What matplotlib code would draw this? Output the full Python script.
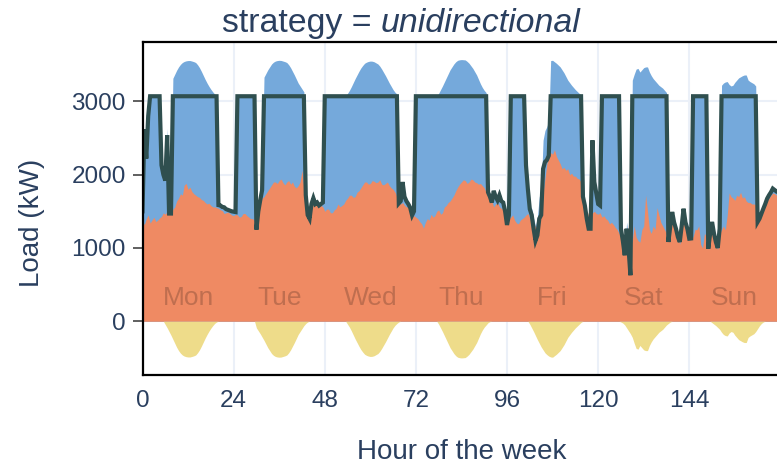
import matplotlib
matplotlib.use("Agg")
import matplotlib.pyplot as plt
import numpy as np

plt.rcParams['font.family'] = ['Liberation Sans', 'DejaVu Sans']

# ---------------- data (half-hourly, hour 0 .. 168) ----------------
hours = [i * 0.5 for i in range(337)]

base_load = [
    # Mon 0-23.5
    1360, 1320, 1400, 1450, 1340, 1380, 1420, 1360, 1380, 1410, 1430, 1480,
    1460, 1500, 1480, 1450, 1530, 1560, 1640, 1680, 1740, 1720, 1860, 1880,
    1800, 1830, 1770, 1740, 1720, 1700, 1690, 1660, 1650, 1620, 1600, 1610,
    1580, 1560, 1560, 1550, 1540, 1520, 1510, 1470, 1480, 1490, 1470, 1450,
    # Tue 24-47.5
    1440, 1460, 1450, 1420, 1430, 1470, 1470, 1440, 1420, 1400, 1400, 1370,
    1340, 1420, 1600, 1680, 1700, 1740, 1780, 1820, 1860, 1900, 1900, 1880,
    1920, 1940, 1890, 1860, 1900, 1920, 1870, 1900, 1840, 1820, 1850, 1900,
    2060, 1800, 1650, 1400, 1420, 1580, 1640, 1580, 1600, 1560, 1580, 1560,
    # Wed 48-71.5
    1500, 1530, 1530, 1480, 1480, 1520, 1540, 1600, 1560, 1580, 1600, 1650,
    1680, 1720, 1720, 1690, 1700, 1760, 1780, 1820, 1860, 1900, 1900, 1870,
    1880, 1920, 1910, 1890, 1900, 1930, 1870, 1860, 1880, 1900, 1850, 1820,
    1800, 1760, 1700, 1660, 1600, 1620, 1580, 1560, 1560, 1540, 1430, 1440,
    # Thu 72-95.5
    1420, 1400, 1360, 1330, 1270, 1350, 1400, 1380, 1460, 1420, 1440, 1500,
    1520, 1460, 1480, 1560, 1580, 1620, 1640, 1680, 1720, 1780, 1830, 1870,
    1900, 1930, 1920, 1880, 1900, 1940, 1930, 1900, 1890, 1870, 1880, 1850,
    1820, 1760, 1700, 1660, 1640, 1560, 1600, 1620, 1560, 1540, 1520, 1480,
    # Fri 96-119.5
    1350, 1400, 1420, 1450, 1380, 1340, 1330, 1380, 1400, 1420, 1450, 1470,
    1400, 1420, 1350, 1280, 1300, 1450, 1550, 1750, 1950, 2150, 2250, 2300,
    2280, 2340, 2250, 2200, 2150, 2080, 2100, 2060, 2080, 2000, 2020, 1980,
    1980, 1950, 1940, 1900, 1720, 1600, 1400, 1500, 1450, 1480, 1500, 1470,
    # Sat 120-143.5
    1460, 1480, 1420, 1440, 1400, 1380, 1330, 1350, 1320, 1280, 1250, 1200,
    1150, 1080, 1000, 950, 1330, 1050, 1100, 1300, 1150, 1100, 1080, 1250,
    1300, 1720, 1500, 1250, 1200, 1300, 1250, 1550, 1450, 1350, 1300, 1250,
    1200, 1180, 1250, 1400, 1280, 1200, 1150, 1050, 1280, 1380, 1250, 1200,
    # Sun 144-167.5
    1100, 1150, 1150, 1250, 1250, 1300, 1050, 1000, 1200, 1150, 980, 1150,
    1300, 1150, 1050, 980, 1200, 1250, 1300, 1250, 1450, 1750, 1700, 1680,
    1650, 1720, 1700, 1760, 1680, 1700, 1640, 1620, 1620, 1600, 1600, 1590,
    1400, 1380, 1450, 1520, 1580, 1650, 1680, 1720, 1750, 1740, 1720, 1740,
    # 168
    1760,
]

grid_load = [
    # Mon
    1500, 2620, 2220, 2800, 3070, 3070, 3070, 3070, 3070, 3070, 2130, 2000,
    1920, 2540, 1470, 1470, 3070, 3070, 3070, 3070, 3070, 3070, 3070, 3070,
    3070, 3070, 3070, 3070, 3070, 3070, 3070, 3070, 3070, 3070, 3070, 3070,
    3070, 3070, 3070, 3070, 1585, 1580, 1560, 1555, 1530, 1520, 1510, 1500,
    # Tue
    1495, 1490, 3070, 3070, 3070, 3070, 3070, 3070, 3070, 3070, 3070, 3070,
    1250, 1500, 1650, 1790, 3070, 3070, 3070, 3070, 3070, 3070, 3070, 3070,
    3070, 3070, 3070, 3070, 3070, 3070, 3070, 3070, 3070, 3070, 3070, 3070,
    3070, 3070, 1720, 1450, 1400, 1600, 1680, 1600, 1620, 1580, 1600, 1620,
    # Wed
    3070, 3070, 3070, 3070, 3070, 3070, 3070, 3070, 3070, 3070, 3070, 3070,
    3070, 3070, 3070, 3070, 3070, 3070, 3070, 3070, 3070, 3070, 3070, 3070,
    3070, 3070, 3070, 3070, 3070, 3070, 3070, 3070, 3070, 3070, 3070, 3070,
    3070, 3070, 3070, 1610, 1640, 1900, 1700, 1640, 1600, 1550, 1446, 1500,
    # Thu
    3070, 3070, 3070, 3070, 3070, 3070, 3070, 3070, 3070, 3070, 3070, 3070,
    3070, 3070, 3070, 3070, 3070, 3070, 3070, 3070, 3070, 3070, 3070, 3070,
    3070, 3070, 3070, 3070, 3070, 3070, 3070, 3070, 3070, 3070, 3070, 3070,
    3070, 3070, 1760, 1700, 1620, 1780, 1700, 1650, 1720, 1640, 1620, 1500,
    # Fri
    1314, 1450, 3070, 3070, 3070, 3070, 3070, 3070, 3070, 3070, 2128, 1800,
    1530, 1450, 1263, 1100, 1173, 1400, 1450, 2080, 2173, 2200, 2260, 3070,
    3070, 3070, 3070, 3070, 3070, 3070, 3070, 3070, 3070, 3070, 3070, 3070,
    3070, 3070, 3070, 3070, 1700, 1580, 1400, 1263, 1263, 2469, 1900, 1750,
    # Sat
    1600, 1580, 3070, 3070, 3070, 3070, 3070, 3070, 3070, 3070, 3070, 3070,
    1263, 1100, 900, 1263, 1000, 628, 3070, 3070, 3070, 3070, 3070, 3070,
    3070, 3070, 3070, 3070, 3070, 3070, 3070, 3070, 3070, 3070, 3070, 3070,
    3070, 1082, 1300, 1491, 1350, 1263, 1150, 1082, 1300, 1536, 1350, 1263,
    # Sun
    1127, 1130, 3070, 3070, 3070, 3070, 3070, 3070, 3070, 3070, 990, 1200,
    1355, 1200, 1082, 1000, 1263, 3070, 3070, 3070, 3070, 3070, 3070, 3070,
    3070, 3070, 3070, 3070, 3070, 3070, 3070, 3070, 3070, 3070, 3070, 3070,
    1355, 1400, 1470, 1536, 1600, 1673, 1720, 1760, 1810, 1790, 1770, 1780,
    # 168
    1800,
]

pv_gen = [
    # Mon
    0, 0, 0, 0, 0, 0, 0, 0, 0, 0, 0, 0,
    45, 90, 140, 190, 245, 300, 355, 400, 435, 460, 475, 483,
    487, 487, 480, 472, 460, 430, 390, 340, 285, 230, 180, 135,
    95, 60, 30, 10, 0, 0, 0, 0, 0, 0, 0, 0,
    # Tue
    0, 0, 0, 0, 0, 0, 0, 0, 0, 0, 0, 0,
    90, 130, 170, 215, 260, 310, 360, 400, 440, 465, 480, 487,
    490, 488, 480, 472, 460, 430, 390, 340, 290, 235, 180, 140,
    100, 60, 30, 10, 0, 0, 0, 0, 0, 0, 0, 0,
    # Wed
    0, 0, 0, 0, 0, 0, 0, 0, 0, 0, 0, 0,
    40, 80, 130, 185, 240, 290, 340, 385, 420, 450, 465, 475,
    480, 478, 470, 455, 440, 410, 370, 325, 280, 230, 180, 135,
    90, 55, 30, 10, 0, 0, 0, 0, 0, 0, 0, 0,
    # Thu
    0, 0, 0, 0, 0, 0, 0, 0, 0, 0, 0, 0,
    40, 90, 140, 195, 250, 305, 360, 400, 440, 470, 490, 497,
    500, 498, 495, 475, 450, 415, 380, 335, 290, 230, 170, 120,
    80, 50, 20, 5, 0, 0, 0, 0, 0, 0, 0, 0,
    # Fri
    0, 0, 0, 0, 0, 0, 0, 0, 0, 0, 0, 0,
    40, 90, 140, 195, 250, 300, 350, 390, 430, 455, 475, 487,
    490, 470, 450, 425, 400, 360, 320, 270, 220, 185, 150, 120,
    90, 65, 40, 15, 0, 0, 0, 0, 0, 0, 0, 0,
    # Sat
    0, 0, 0, 0, 0, 0, 0, 0, 0, 0, 0, 0,
    10, 25, 50, 90, 130, 170, 220, 300, 370, 380, 330, 360,
    390, 400, 400, 330, 280, 240, 210, 180, 150, 130, 110, 80,
    50, 30, 10, 0, 0, 0, 0, 0, 0, 0, 0, 0,
    # Sun
    0, 0, 0, 0, 0, 0, 0, 0, 0, 0, 0, 0,
    20, 40, 60, 85, 110, 150, 180, 195, 200, 160, 140, 150,
    190, 220, 250, 265, 280, 290, 290, 220, 200, 185, 170, 140,
    100, 60, 30, 10, 0, 0, 0, 0, 0, 0, 0, 0,
    # 168
    0,
]

day_names = ["Mon", "Tue", "Wed", "Thu", "Fri", "Sat", "Sun"]
day_centers = [12, 36, 60, 84, 108, 132, 156]
x_ticks = [0, 24, 48, 72, 96, 120, 144]
y_ticks = [0, 1000, 2000, 3000]

# ---------------- styling ----------------
W, H = 777, 466
C_BLUE = "#75A9DB"
C_ORANGE = "#EF8A63"
C_YELLOW = "#EEDC8A"
C_LINE = "#2F4F4F"
C_TEXT = "#2a3f5f"
C_GRID = "#EBF0F8"

fig = plt.figure(figsize=(W / 100, H / 100), dpi=100)
fig.patch.set_facecolor("white")
left_px, right_px, top_px, bot_px = 142.5, 780.4, 42, 375
ax = fig.add_axes([left_px / W, 1 - bot_px / H, (right_px - left_px) / W, (bot_px - top_px) / H])
ax.set_facecolor("white")

h = np.array(hours, dtype=float)
base = np.array(base_load, dtype=float)
grid = np.array(grid_load, dtype=float)
pv = np.array(pv_gen, dtype=float)

# stacked: total consumption (grid + pv) behind, base load in front, pv mirrored below
ax.fill_between(h, 0, grid + pv, color=C_BLUE, lw=0, zorder=2)
ax.fill_between(h, 0, base, color=C_ORANGE, lw=0, zorder=3)
ax.fill_between(h, 0, -pv, color=C_YELLOW, lw=0, zorder=3)
ax.plot(h, grid, color=C_LINE, lw=3.0, zorder=6, solid_joinstyle="miter")

for name, c in zip(day_names, day_centers):
    ax.text(c, 320, name, ha="center", va="center", fontsize=19,
            color=(0, 0, 0, 0.2), zorder=4)

ax.set_xlim(0, 168)
ax.set_ylim(-733, 3810)
ax.set_xticks(x_ticks)
ax.set_yticks(y_ticks)
ax.set_axisbelow(True)
ax.grid(True, color=C_GRID, lw=1.5, zorder=0)

ax.tick_params(axis="x", length=0, pad=11, labelsize=17.5, labelcolor=C_TEXT)
ax.tick_params(axis="y", length=7.5, width=1.2, color="#444444", pad=4.5,
               labelsize=17.5, labelcolor=C_TEXT)
for s in ax.spines.values():
    s.set_color("black")
    s.set_linewidth(1.6)
    s.set_zorder(10)

# axis titles
fig.text(461.5 / W, 1 - 452 / H, "Hour of the week", ha="center", va="center",
         fontsize=20, color=C_TEXT)
fig.text(32 / W, 1 - 223 / H, "Load (kW)", ha="center", va="center",
         rotation=90, fontsize=20, color=C_TEXT)

# title with italic part
fig.canvas.draw()
r = fig.canvas.get_renderer()
TS = 24.4
t1 = fig.text(0, 0, "strategy =", fontsize=TS, color=C_TEXT, va="baseline", ha="left")
t2 = fig.text(0, 0, "unidirectional", fontsize=TS, color=C_TEXT, va="baseline",
              ha="left", fontstyle="italic")
w1 = t1.get_window_extent(r).width
w2 = t2.get_window_extent(r).width
gap = 0.278 * TS * 100 / 72
total = w1 + gap + w2
x0 = 401 - total / 2
yb = 1 - 31.7 / H
t1.set_position((x0 / W, yb))
t2.set_position(((x0 + w1 + gap) / W, yb))

fig.savefig("out.png", dpi=100)
